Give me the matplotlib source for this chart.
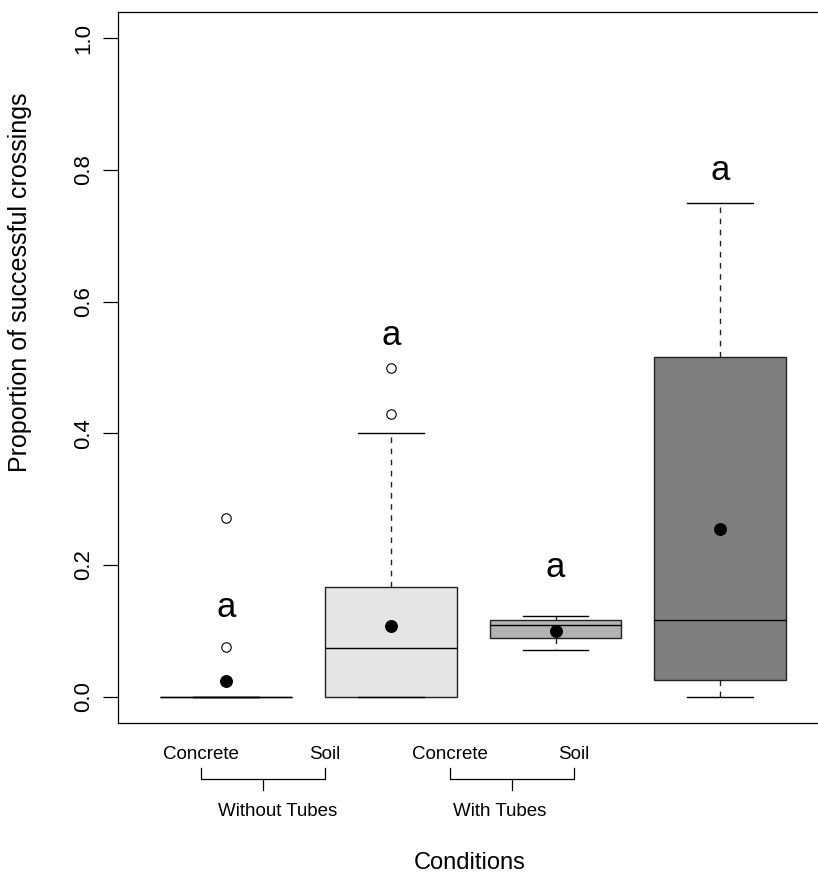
import matplotlib.pyplot as plt
from matplotlib.transforms import blended_transform_factory

plt.rcParams['font.family'] = ['Liberation Sans', 'DejaVu Sans']

# datos de las cajas
posiciones = [1, 2, 3, 4]
q1 = [0.0, 0.0, 0.0895, 0.025]
medianas = [0.0, 0.074, 0.109, 0.116]
q3 = [0.0, 0.167, 0.117, 0.516]
bigote_inf = [0.0, 0.0, 0.071, 0.0]
bigote_sup = [0.0, 0.4, 0.123, 0.75]
atipicos = [[0.076, 0.272], [0.429, 0.499], [], []]
medias = [0.024, 0.108, 0.099, 0.255]
letras = ['a', 'a', 'a', 'a']
letras_y = [0.121, 0.534, 0.182, 0.785]
colores = ['white', '#e5e5e5', '#b3b3b3', '#7f7f7f']

# etiquetas del eje x
sustratos = ['Concrete', 'Soil', 'Concrete', 'Soil']
sustratos_x = [0.85, 1.6, 2.36, 3.11]
grupos = ['Without Tubes', 'With Tubes']
grupos_x = [1.31, 2.66]
llaves = [(0.85, 1.6), (2.36, 3.11)]

stats = []
for i in range(4):
    stats.append(dict(q1=q1[i], med=medianas[i], q3=q3[i],
                      whislo=bigote_inf[i], whishi=bigote_sup[i],
                      fliers=atipicos[i]))

fig = plt.figure(figsize=(8.18, 8.77), dpi=100)
ax = fig.add_axes([118 / 818, 1 - 723 / 877, 711 / 818, 711 / 877])

bp = ax.bxp(stats, positions=posiciones, widths=0.8, patch_artist=True,
            boxprops=dict(edgecolor='#222222', linewidth=1.0),
            medianprops=dict(color='black', linewidth=1.0),
            whiskerprops=dict(color='#222222', linewidth=1.0, linestyle=(0, (4, 4))),
            capprops=dict(color='black', linewidth=1.0),
            flierprops=dict(marker='o', markersize=6.8, markerfacecolor='white',
                            markeredgecolor='black', markeredgewidth=0.8))
for caja, c in zip(bp['boxes'], colores):
    caja.set_facecolor(c)

ax.plot(posiciones, medias, 'o', color='black', markersize=8.3, linestyle='none', zorder=5)

for x, y, t in zip(posiciones, letras_y, letras):
    ax.text(x, y, t, ha='center', va='baseline', fontsize=25)

ax.set_xlim(0.344, 4.66)
ax.set_ylim(-0.04, 1.04)
ax.set_yticks([0.0, 0.2, 0.4, 0.6, 0.8, 1.0])
ax.set_yticklabels(['0.0', '0.2', '0.4', '0.6', '0.8', '1.0'], rotation=90, va='center')
ax.tick_params(axis='y', length=10.8, width=0.9, labelsize=16, pad=6.5)
ax.set_xticks([])
ax.spines['right'].set_visible(False)
for s in ax.spines.values():
    s.set_linewidth(0.9)
ax.set_ylabel('Proportion of successful crossings', fontsize=18)
ax.yaxis.set_label_coords(-0.121, 0.62)

trans = blended_transform_factory(ax.transData, ax.transAxes)
for x, t in zip(sustratos_x, sustratos):
    ax.text(x, -0.045, t, ha='center', va='center', fontsize=13.5, transform=trans)
for (a, b) in llaves:
    m = (a + b) / 2
    ax.plot([a, a, b, b], [-0.063, -0.079, -0.079, -0.063], color='black', lw=0.9,
            transform=trans, clip_on=False)
    ax.plot([m, m], [-0.079, -0.094], color='black', lw=0.9, transform=trans, clip_on=False)
for x, t in zip(grupos_x, grupos):
    ax.text(x, -0.125, t, ha='center', va='center', fontsize=13.5, transform=trans)
ax.text(2.48, -0.205, 'Conditions', ha='center', va='baseline', fontsize=17, transform=trans)

fig.savefig('out.png', dpi=100)
